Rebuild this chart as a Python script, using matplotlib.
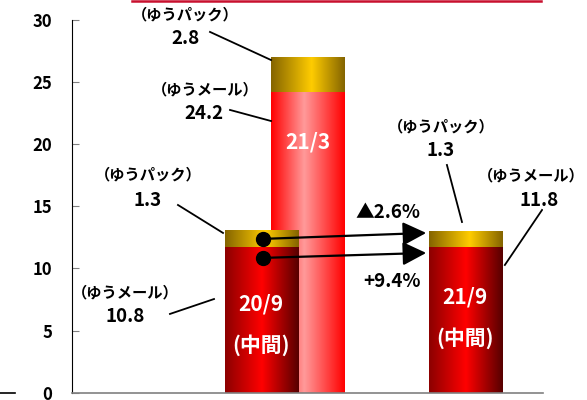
import numpy as np
import matplotlib
matplotlib.use("Agg")
import matplotlib.pyplot as plt
from matplotlib.colors import LinearSegmentedColormap
from matplotlib.lines import Line2D

plt.rcParams['font.family'] = ['Noto Sans CJK JP', 'DejaVu Sans']

# Data
periods = ['20/9', '21/3', '21/9']
sublabels = ['(中間)', '', '(中間)']
mail = [11.7, 24.2, 11.7]        # ゆうメール (drawn height)
pack = [1.4, 2.8, 1.3]           # ゆうパック (drawn height)
mail_labels = ['10.8', '24.2', '11.8']
pack_labels = ['1.3', '2.8', '1.3']
changes = ['▲2.6%', '+9.4%']
yticks = [0, 5, 10, 15, 20, 25, 30]

# Layout
bar_x = [4.02, 5.00, 8.35]
bar_w = 1.56
bar_z = [2, 1, 2]

red_dark = ['#8c0000', '#ff0000', '#560000']
red_light = ['#ff0000', '#ff9a9a', '#ff0000']
gold = ['#846400', '#ffcc00', '#846400']
mail_grad = [red_dark, red_light, red_dark]

fig = plt.figure(figsize=(5.87, 4.00), dpi=100)
ax = fig.add_axes([72 / 587, 7.3 / 400, 471 / 587, 372.7 / 400])


def gradient_fill(ax, rect, colors, mid=0.5):
    cmap = LinearSegmentedColormap.from_list('g', list(zip([0, mid, 1], colors)))
    grad = np.linspace(0, 1, 256).reshape(1, -1)
    x0, y0 = rect.get_x(), rect.get_y()
    w, h = rect.get_width(), rect.get_height()
    im = ax.imshow(grad, cmap=cmap, extent=[x0, x0 + w, y0, y0 + h],
                   aspect='auto', zorder=rect.get_zorder(), interpolation='bilinear')
    im.set_clip_path(rect)


order = [1, 0, 2]  # 21/3 sits behind 20/9
for i in order:
    b1 = ax.bar(bar_x[i], mail[i], width=bar_w, facecolor='none', edgecolor='none', zorder=bar_z[i])[0]
    gradient_fill(ax, b1, mail_grad[i], 0.45 if i == 1 else 0.5)
    b2 = ax.bar(bar_x[i], pack[i], bottom=mail[i], width=bar_w, facecolor='none',
                edgecolor='none', zorder=bar_z[i])[0]
    gradient_fill(ax, b2, gold, 0.55)

ax.set_xlim(0, 10)
ax.set_ylim(0, 30)

# bar texts
ax.text(bar_x[1], 20.2, periods[1], color='white', fontsize=15, fontweight='bold',
        ha='center', va='center', zorder=6)
for i in (0, 2):
    yy = 7.15 if i == 0 else 7.7
    ax.text(bar_x[i], yy, periods[i], color='white', fontsize=15, fontweight='bold',
            ha='center', va='center', zorder=6)
    ax.text(bar_x[i], yy - 3.3, sublabels[i], color='white', fontsize=15, fontweight='bold',
            ha='center', va='center', zorder=6)

# callouts: (name pos, value pos, line start, line end)
callouts = [
    ('（ゆうパック）', pack_labels[1], (2.40, 30.41), (2.40, 28.5), (2.93, 29.04), (4.225, 26.78)),
    ('（ゆうメール）', mail_labels[1], (2.82, 24.37), (2.80, 22.5), (3.355, 22.76), (4.225, 21.87)),
    ('（ゆうパック）', pack_labels[0], (1.61, 17.53), (1.61, 15.5), (2.25, 15.11), (3.206, 12.86)),
    ('（ゆうメール）', mail_labels[0], (1.125, 8.03), (1.125, 6.15), (2.08, 6.34), (3.015, 7.54)),
    ('（ゆうパック）', pack_labels[2], (7.83, 21.39), (7.83, 19.5), (7.96, 18.33), (8.28, 13.74)),
    ('（ゆうメール）', mail_labels[2], (9.76, 17.45), (9.91, 15.5), (9.98, 14.71), (9.19, 10.28)),
]
for name, val, p_name, p_val, l0, l1 in callouts:
    ax.text(*p_name, name, fontsize=11, fontweight='bold', ha='center', va='center', clip_on=False)
    ax.text(*p_val, val, fontsize=13.5, fontweight='bold', ha='center', va='center', clip_on=False)
    ax.plot([l0[0], l1[0]], [l0[1], l1[1]], color='black', lw=1.3, zorder=4)

# change arrows
starts = [(4.055, 12.38), (4.055, 10.85)]
ends = [(7.52, 12.86), (7.52, 11.25)]
for s, e in zip(starts, ends):
    ax.plot(*s, 'o', color='black', ms=10, zorder=5)
    ax.annotate('', xy=e, xytext=s, zorder=5,
                arrowprops=dict(arrowstyle='-|>,head_length=0.9,head_width=0.45',
                                color='black', lw=1.6, mutation_scale=16, shrinkA=0, shrinkB=0))
ax.text(6.71, 14.53, changes[0], fontsize=13.5, fontweight='bold', ha='center', va='center')
ax.text(6.79, 8.99, changes[1], fontsize=13.5, fontweight='bold', ha='center', va='center')

# axes styling
ax.spines['top'].set_visible(False)
ax.spines['right'].set_visible(False)
ax.spines['left'].set_color('black')
ax.spines['bottom'].set_color('#808080')
ax.spines['bottom'].set_linewidth(1.2)
ax.set_yticks(yticks)
ax.set_xticks([])
ax.tick_params(axis='y', direction='in', length=5, color='#808080', pad=14, labelsize=12)
for lab in ax.get_yticklabels():
    lab.set_fontweight('bold')

# decorative lines
fig.add_artist(Line2D([132 / 587, 541 / 587], [1 - 1 / 400, 1 - 1 / 400], color='#c8102e', lw=1.8))
fig.add_artist(Line2D([0, 15 / 587], [7.3 / 400, 7.3 / 400], color='black', lw=1.2))

fig.savefig('out.png', dpi=100)
